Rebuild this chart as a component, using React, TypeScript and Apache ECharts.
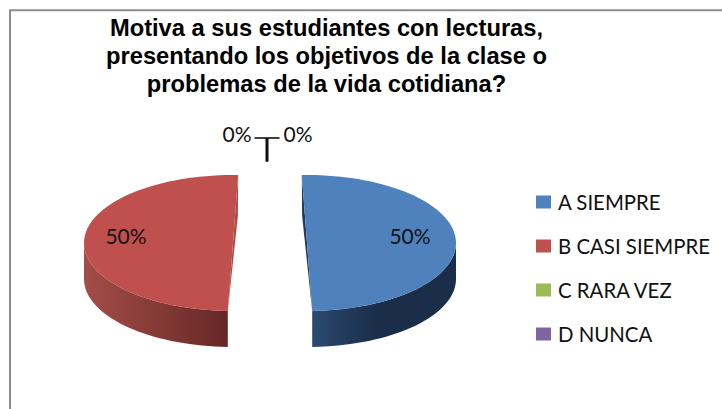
import React, { useEffect, useRef } from "react";
import * as echarts from "echarts";

const titleLines = [
  "Motiva a sus estudiantes con lecturas,",
  "presentando los objetivos de la clase o",
  "problemas de la vida cotidiana?",
];
const categories = ["A SIEMPRE", "B CASI SIEMPRE", "C RARA VEZ", "D NUNCA"];
const values = [50, 50, 0, 0];
const colors = ["#4f81bd", "#c0504d", "#9bbb59", "#8064a2"];
const wallLeft = ["#2c4a70", "#a44d49", "", ""];
const wallRight = ["#1a2e49", "#662826", "", ""];
const sliver = ["#1f3a5c", "#b04a47", "", ""];

const total = values.reduce((a, b) => a + b, 0);
const CY = 243;
const RX = 149;
const RY = 68;
const DEPTH = 36;
const EXPLODE = 37;
const PIE_CX = 270;
const SKEW = 2;
const LABEL_FONT = "Lato, 'Open Sans', sans-serif";

function pt(cx: number, cy: number, deg: number): number[] {
  const r = (deg * Math.PI) / 180;
  return [cx + RX * Math.sin(r), cy - RY * Math.cos(r)];
}

function renderSlice(index: number) {
  return (_params: any, api: any) => {
    const v = api.value(0) as number;
    const before = values.slice(0, index).reduce((a, b) => a + b, 0);
    const pct = Math.round((v / total) * 100) + "%";
    const textStyle = {
      text: pct,
      fontFamily: LABEL_FONT,
      fontSize: 21,
      fill: "#111",
      align: "center",
      verticalAlign: "middle",
    };
    if (v === 0) {
      const dir = index === 2 ? -1 : 1;
      return {
        type: "group",
        children: [
          { type: "line", shape: { x1: 267, y1: 138, x2: 267 + dir * 12.5, y2: 138 }, style: { stroke: "#111", lineWidth: 1.6 } },
          { type: "line", shape: { x1: 267, y1: 138, x2: 267, y2: 161.5 }, style: { stroke: "#111", lineWidth: 2.6 } },
          { type: "text", style: { ...textStyle, x: index === 2 ? 237 : 298, y: 133 } },
        ],
      };
    }
    const start = (before / total) * 360;
    const sweep = (v / total) * 360;
    const mid = start + sweep / 2;
    const dir = Math.sin((mid * Math.PI) / 180) >= 0 ? 1 : -1;
    const cx = PIE_CX + dir * EXPLODE;
    const from = start - dir * SKEW;
    const to = from + sweep;
    const top: number[][] = [[cx, CY]];
    const lower: number[][] = [];
    for (let i = 0; i <= 72; i++) {
      const a = from + ((to - from) * i) / 72;
      const p = pt(cx, CY, a);
      top.push(p);
      if (Math.cos((a * Math.PI) / 180) <= 0.02) lower.push(p);
    }
    const wall = [
      ...lower,
      ...lower.slice().reverse().map((p) => [p[0], p[1] + DEPTH]),
    ];
    const grad = new echarts.graphic.LinearGradient(
      0, 0, 1, 0,
      dir > 0
        ? [{ offset: 0, color: wallLeft[index] }, { offset: 0.45, color: wallRight[index] }, { offset: 1, color: wallRight[index] }]
        : [{ offset: 0, color: wallLeft[index] }, { offset: 1, color: wallRight[index] }],
    );
    const chordTop = dir > 0 ? pt(cx, CY, from) : pt(cx, CY, to);
    const chordBottom = dir > 0 ? pt(cx, CY, to) : pt(cx, CY, from);
    const bow = [
      chordTop[0] + (chordBottom[0] - chordTop[0]) * 0.3 - dir * 2.8,
      chordTop[1] + (chordBottom[1] - chordTop[1]) * 0.3,
    ];
    return {
      type: "group",
      children: [
        { type: "polygon", shape: { points: [chordTop, bow, chordBottom] }, style: { fill: sliver[index] } },
        { type: "polygon", shape: { points: wall }, style: { fill: grad } },
        { type: "polygon", shape: { points: top }, style: { fill: colors[index] } },
        { type: "text", style: { ...textStyle, x: cx + (dir > 0 ? 103 : -107), y: 235 } },
      ],
    };
  };
}

export default function App() {
  const ref = useRef<HTMLDivElement>(null);
  useEffect(() => {
    if (!ref.current) return;
    const chart = echarts.init(ref.current, undefined, { renderer: "svg" });
    chart.setOption({
      animation: false,
      backgroundColor: "#fff",
      title: {
        text: titleLines.join("\n"),
        left: 321.5,
        top: 9,
        textAlign: "center",
        textStyle: {
          fontFamily: "'Liberation Sans', Arial, sans-serif",
          fontWeight: "bold",
          fontSize: 23.7,
          lineHeight: 28,
          color: "#000",
        },
      },
      legend: {
        orient: "vertical",
        left: 536,
        top: 192,
        padding: 0,
        icon: "rect",
        itemWidth: 15,
        itemHeight: 13,
        itemGap: 24,
        data: categories,
        textStyle: {
          fontFamily: LABEL_FONT,
          fontSize: 20.4,
          color: "#111",
          padding: [0, 0, 0, 2],
        },
      },
      graphic: [
        { type: "line", silent: true, shape: { x1: 10, y1: 409, x2: 10, y2: 10 }, style: { stroke: "#8c8c8c", lineWidth: 2 } },
        { type: "line", silent: true, shape: { x1: 9, y1: 10.3, x2: 722, y2: 10.3 }, style: { stroke: "#8c8c8c", lineWidth: 2 } },
      ],
      series: categories.map((name, i) => ({
        type: "custom",
        name,
        coordinateSystem: "none",
        itemStyle: { color: colors[i] },
        renderItem: renderSlice(i),
        data: [[values[i]]],
        silent: true,
      })),
    });
    return () => chart.dispose();
  }, []);
  return <div ref={ref} style={{ position: "fixed", left: 0, top: 0, width: 722, height: 409 }} />;
}
